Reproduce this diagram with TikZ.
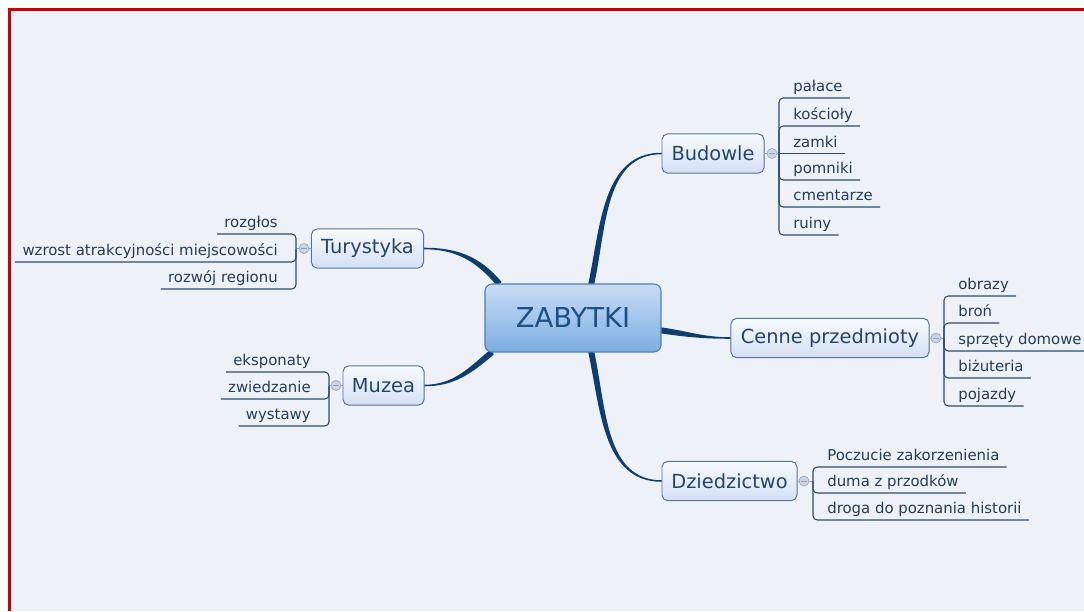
\documentclass[tikz,border=0pt]{standalone}
\usepackage{fontspec}
\setmainfont{DejaVu Sans}
\usepackage{xcolor}
\usetikzlibrary{positioning,backgrounds,calc}

\definecolor{pagebg}{HTML}{EEF2F8}
\definecolor{framered}{HTML}{CC0000}
\definecolor{hubtop}{HTML}{C8DDF4}
\definecolor{hubbot}{HTML}{7DADE2}
\definecolor{hubline}{HTML}{4F7FB3}
\definecolor{hubtext}{HTML}{1D4F88}
\definecolor{topictop}{HTML}{F8FAFE}
\definecolor{topicbot}{HTML}{D3E0F3}
\definecolor{topicline}{HTML}{54759C}
\definecolor{topictext}{HTML}{23456E}
\definecolor{leaftext}{HTML}{223D5E}
\definecolor{twigline}{HTML}{2F4B6C}
\definecolor{knobfill}{HTML}{CAD6E6}
\definecolor{knobline}{HTML}{8EA3BC}
\definecolor{branchc}{HTML}{0E3D70}

\begin{document}
\begin{tikzpicture}[
    x=0.025cm, y=0.025cm,
    hub/.style={rectangle, draw=hubline, line width=0.8pt, rounded corners=5pt, top color=hubtop, bottom color=hubbot, minimum width=4.4cm, minimum height=1.7cm, text=hubtext, font=\fontsize{19.5}{22}\selectfont},
    topic/.style={rectangle, draw=topicline, line width=0.7pt, rounded corners=4pt, top color=topictop, bottom color=topicbot, minimum height=0.98cm, text=topictext, font=\fontsize{13.8}{16}\selectfont},
    leaf/.style={inner xsep=5pt, inner ysep=1.6pt, text depth=0.25em, text=leaftext, font=\fontsize{10.6}{12}\selectfont},
    knob/.style={circle, draw=knobline, fill=knobfill, minimum size=0.25cm, inner sep=0pt, path picture={\draw[knobline, line width=0.6pt] ([xshift=1.6pt]path picture bounding box.west) -- ([xshift=-1.6pt]path picture bounding box.east);}},
    stem/.style={draw=knobline, line width=0.7pt},
    twig/.style={draw=twigline, line width=0.75pt, rounded corners=3pt},
    branch/.style={fill=branchc, draw=branchc, line width=1.1pt, line join=round}
]

% Page
\useasboundingbox (0,0) rectangle (1084,-611);
\begin{scope}[on background layer]
\fill[white] (0,0) rectangle (1084,-611);
\fill[pagebg] (9,-9) rectangle (1084,-611);
\draw[framered, line width=2.2pt] (9.5,-611) -- (9.5,-9.5) -- (1084,-9.5);
\end{scope}

% Centre
\node[hub] (zab) at (573,-318) {ZABYTKI};

% Main topics
\node[topic, minimum width=2.55cm] (bud) at (713,-153.5) {Budowle};
\node[topic, minimum width=2.8cm] (tur) at (367.5,-248.5) {Turystyka};
\node[topic, minimum width=2.025cm] (muz) at (383.5,-385.5) {Muzea};
\node[topic, minimum width=4.95cm] (cen) at (830,-338) {Cenne przedmioty};
\node[topic, minimum width=3.375cm] (dzi) at (729.5,-481) {Dziedzictwo};

% Knobs
\node[knob] (bud-k) at (772,-153.5) {};
\node[knob] (tur-k) at (304,-248.5) {};
\node[knob] (muz-k) at (336,-385.5) {};
\node[knob] (cen-k) at (936,-338) {};
\node[knob] (dzi-k) at (804,-481) {};
\coordinate (bud-j) at (779,-153.5);
\coordinate (tur-j) at (296,-248.5);
\coordinate (muz-j) at (329,-385.5);
\coordinate (cen-j) at (944,-338);
\coordinate (dzi-j) at (813,-481);

% Budowle
\node[leaf, anchor=south west] (palace) at (786,-98) {pałace};
\node[leaf, anchor=south west] (koscioly) at (786,-126) {kościoły};
\node[leaf, anchor=south west] (zamki) at (786,-153.5) {zamki};
\node[leaf, anchor=south west] (pomniki) at (786,-180) {pomniki};
\node[leaf, anchor=south west] (cmentarze) at (786,-207) {cmentarze};
\node[leaf, anchor=south west] (ruiny) at (786,-235) {ruiny};

% Turystyka
\node[leaf, anchor=south east] (rozglos) at (285,-234) {rozgłos};
\node[leaf, anchor=south east] (wzrost) at (285,-262) {wzrost atrakcyjności miejscowości};
\node[leaf, anchor=south east] (rozwoj) at (285,-289) {rozwój regionu};

% Muzea
\node[leaf, anchor=south east] (eksponaty) at (318,-372) {eksponaty};
\node[leaf, anchor=south east] (zwiedzanie) at (318,-399) {zwiedzanie};
\node[leaf, anchor=south east] (wystawy) at (318,-426) {wystawy};

% Cenne przedmioty
\node[leaf, anchor=south west] (obrazy) at (951,-296) {obrazy};
\node[leaf, anchor=south west] (bron) at (951,-323) {broń};
\node[leaf, anchor=south west] (sprzety) at (951,-351) {sprzęty domowe};
\node[leaf, anchor=south west] (bizuteria) at (951,-378) {biżuteria};
\node[leaf, anchor=south west] (pojazdy) at (951,-406) {pojazdy};

% Dziedzictwo
\node[leaf, anchor=south west] (poczucie) at (820,-467) {Poczucie zakorzenienia};
\node[leaf, anchor=south west] (duma) at (820,-493) {duma z przodków};
\node[leaf, anchor=south west] (droga) at (820,-520) {droga do poznania historii};

% Stems
\draw[stem] (bud) -- (bud-k) -- (bud-j);
\draw[stem] (tur) -- (tur-k) -- (tur-j);
\draw[stem] (muz) -- (muz-k) -- (muz-j);
\draw[stem] (cen) -- (cen-k) -- (cen-j);
\draw[stem] (dzi) -- (dzi-k) -- (dzi-j);

% Twigs
\draw[twig] (bud-j) |- (palace.south east);
\draw[twig] (bud-j) |- (koscioly.south east);
\draw[twig] (bud-j) -- (bud-j -| zamki.south east);
\draw[twig] (bud-j) |- (pomniki.south east);
\draw[twig] (bud-j) |- (cmentarze.south east);
\draw[twig] (bud-j) |- (ruiny.south east);
\draw[twig] (tur-j) |- (rozglos.south west);
\draw[twig] (tur-j) |- (wzrost.south west);
\draw[twig] (tur-j) |- (rozwoj.south west);
\draw[twig] (muz-j) |- (eksponaty.south west);
\draw[twig] (muz-j) |- (zwiedzanie.south west);
\draw[twig] (muz-j) |- (wystawy.south west);
\draw[twig] (cen-j) |- (obrazy.south east);
\draw[twig] (cen-j) |- (bron.south east);
\draw[twig] (cen-j) |- (sprzety.south east);
\draw[twig] (cen-j) |- (bizuteria.south east);
\draw[twig] (cen-j) |- (pojazdy.south east);
\draw[twig] (dzi-j) |- (poczucie.south east);
\draw[twig] (dzi-j) |- (duma.south east);
\draw[twig] (dzi-j) |- (droga.south east);

% Branches
\begin{scope}[on background layer]
\path[branch] ([xshift=-1.6pt]zab.62) to[out=78,in=180] (bud.west) to[out=180,in=78] ([xshift=1.6pt]zab.62) -- cycle;
\path[branch] ([xshift=-1.6pt]zab.-62) to[out=-78,in=180] (dzi.west) to[out=180,in=-78] ([xshift=1.6pt]zab.-62) -- cycle;
\path[branch] ([shift={(1.2pt,1pt)}]zab.155) to[out=130,in=0] (tur.east) to[out=0,in=130] ([shift={(-1.2pt,-1pt)}]zab.155) -- cycle;
\path[branch] ([shift={(-1pt,1.2pt)}]zab.203) to[out=220,in=0] (muz.east) to[out=0,in=220] ([shift={(1pt,-1.2pt)}]zab.203) -- cycle;
\path[branch] ([yshift=1.6pt]zab.-8) to[out=-8,in=180] (cen.west) to[out=180,in=-8] ([yshift=-1.6pt]zab.-8) -- cycle;
\end{scope}

\end{tikzpicture}
\end{document}
